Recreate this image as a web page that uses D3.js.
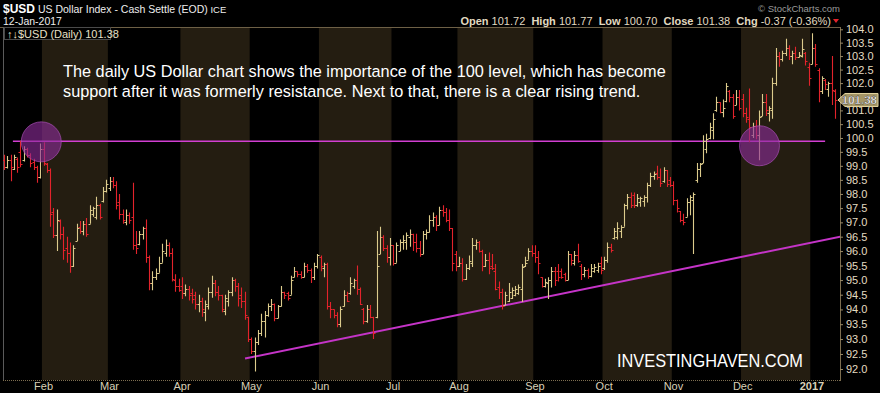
<!DOCTYPE html>
<html><head><meta charset="utf-8">
<script src="https://cdn.jsdelivr.net/npm/d3@7"></script>
<style>html,body{margin:0;padding:0;background:#000;}svg{display:block;}</style>
</head><body>
<svg id="c" width="880" height="393"></svg>
<script>
// ---------- DATA ----------
const firstDay = "2016-01-13", lastDay = "2017-01-12";
const holidays = ["2016-01-18","2016-02-15","2016-03-25","2016-05-30","2016-07-04","2016-09-05","2016-11-24","2016-12-26","2017-01-02"];
const monthLabels = ["Feb","Mar","Apr","May","Jun","Jul","Aug","Sep","Oct","Nov","Dec","2017"];
const yTicks = [92.0,92.5,93.0,93.5,94.0,94.5,95.0,95.5,96.0,96.5,97.0,97.5,98.0,98.5,99.0,99.5,100.0,100.5,101.0,101.5,102.0,102.5,103.0,103.5,104.0];

const opens = [
99.2,98.95,99.2,98.9,99.25,99.5,99.2,99.6,99.4,99.15,98.95,98.6,
99.6,99.05,98.85,97.35,96.55,97.05,96.6,96.1,95.95,95.5,96.35,96.85,96.7,96.95,96.95,97.3,97.2,97.6,97.75,98.1,
98.2,98.45,98.3,97.7,97.3,97.0,97.25,97.2,96.2,96.25,96.6,96.8,95.8,94.9,95.1,95.25,95.6,95.95,96.2,95.95,95.0,94.8,
94.8,94.55,94.7,94.55,94.5,94.2,94.3,93.9,94.1,94.6,94.9,94.6,94.5,93.95,94.3,94.6,95.0,94.8,94.5,94.3,93.75,
93.0,92.6,92.9,93.2,93.6,93.8,94.1,94.2,93.7,94.1,94.6,94.55,94.5,95.1,95.3,95.2,95.1,95.5,95.35,95.1,95.5,
95.8,95.4,95.55,94.1,94.0,93.8,93.5,94.1,94.5,94.55,94.8,95.0,94.7,94.0,93.6,94.0,93.75,93.75,95.9,96.5,96.1,95.8,
96.2,95.6,96.0,96.3,96.3,96.5,96.6,96.3,96.1,95.9,96.6,96.65,97.1,97.2,96.9,97.45,97.35,97.1,96.8,95.9,
95.5,95.6,95.05,95.4,95.6,96.2,96.3,96.0,95.5,95.7,95.5,95.3,94.75,94.6,94.15,94.3,94.4,94.5,94.55,94.7,95.5,95.7,96.0,
95.95,95.8,95.1,94.8,94.9,95.0,95.3,95.3,95.3,95.2,95.0,95.9,95.6,95.85,95.5,95.2,95.35,95.15,95.3,95.35,95.6,
95.4,95.7,96.15,96.45,96.5,96.7,96.85,97.6,97.9,97.95,97.6,97.7,97.75,97.9,98.3,98.65,98.75,98.6,98.45,98.85,98.5,
98.3,97.8,97.4,97.1,97.2,97.7,97.8,98.5,98.9,99.1,99.6,100.0,100.3,101.0,101.3,100.95,101.35,101.7,101.5,101.2,101.5,
101.4,100.9,100.7,100.1,100.45,100.1,100.8,101.3,100.9,101.0,102.0,103.0,102.9,103.1,103.3,103.0,103.1,102.95,103.0,103.1,102.6,
102.7,103.3,102.5,101.7,102.1,101.8,102.0,101.72];
const highs = [
99.4,99.35,99.4,99.4,99.3,99.9,99.7,99.65,99.45,99.25,99.0,99.8,
99.85,99.1,98.9,97.5,97.45,97.1,96.85,96.5,96.3,96.2,96.95,97.05,97.05,97.15,97.6,97.55,97.9,97.65,98.25,98.5,
98.6,98.6,98.45,98.0,97.45,97.45,97.35,98.4,96.7,96.7,96.85,97.1,95.85,95.3,95.4,95.8,96.25,96.4,96.3,96.1,95.2,95.05,
95.1,94.85,94.8,94.7,94.6,94.5,94.4,94.3,94.75,95.15,95.0,94.8,94.5,94.5,94.65,95.1,95.05,94.9,94.75,94.6,93.75,
93.05,93.05,93.3,93.85,93.95,94.2,94.35,94.2,94.15,94.8,94.6,94.6,95.15,95.45,95.3,95.3,95.6,95.55,95.4,95.6,95.9,
95.85,95.6,95.6,94.25,94.0,93.9,94.1,94.65,94.6,95.1,95.05,95.5,94.75,94.05,94.15,94.15,93.75,96.7,96.85,96.55,96.2,96.45,
96.2,96.3,96.4,96.55,96.65,96.75,96.6,96.6,96.35,96.7,96.75,97.25,97.35,97.25,97.55,97.6,97.5,97.45,96.8,96.0,
95.8,95.75,95.55,95.85,96.45,96.4,96.35,96.05,95.9,95.95,95.9,95.55,94.95,94.7,94.6,94.9,94.75,94.8,94.85,95.55,95.8,96.1,96.2,
96.2,96.0,95.1,95.05,95.1,95.45,95.45,95.55,95.4,95.25,96.0,95.9,96.0,96.25,95.55,95.45,95.4,95.55,95.55,95.6,95.8,
95.8,96.3,96.25,96.8,97.0,96.9,97.65,98.0,98.05,98.05,98.0,97.9,97.95,98.4,98.75,98.8,99.0,98.9,98.95,98.85,98.6,
98.45,97.8,97.4,97.3,97.85,97.95,98.05,99.1,99.1,100.1,100.15,100.55,100.9,101.5,101.3,101.4,102.0,101.75,101.6,101.75,101.75,
101.6,101.1,101.8,100.55,100.65,101.0,101.6,101.6,101.15,102.2,103.3,103.15,103.2,103.65,103.4,103.2,103.35,103.15,103.65,103.15,102.75,
103.85,103.45,102.55,102.25,102.15,102.05,103.0,101.77];
const lows = [
98.85,98.9,98.45,98.85,98.75,98.95,99.15,99.3,98.95,98.85,98.4,98.55,
99.0,98.75,96.85,96.45,96.0,96.4,95.7,95.6,95.25,95.45,96.35,96.6,96.55,96.5,96.95,97.2,97.1,97.1,97.7,98.05,
98.1,98.2,97.45,97.1,96.95,96.9,96.95,96.05,95.9,96.2,96.4,95.6,94.65,94.65,95.0,95.25,95.6,95.8,95.8,94.95,94.6,94.6,
94.35,94.45,94.3,94.2,94.0,93.9,93.75,93.6,94.0,94.4,94.45,94.3,93.9,93.8,94.1,94.45,94.6,94.1,94.05,93.65,92.9,
92.5,91.92,92.8,93.1,93.05,93.75,93.95,93.6,93.7,94.1,94.35,94.3,94.5,95.1,95.1,95.05,95.1,95.25,94.9,95.0,95.4,
95.3,95.1,94.0,93.7,93.7,93.4,93.4,94.1,94.25,94.5,94.7,94.5,94.15,93.5,93.55,93.7,93.0,93.7,95.9,96.0,95.6,95.5,
95.5,95.6,96.0,96.05,96.05,96.15,96.0,95.95,95.8,95.9,96.4,96.65,96.85,96.7,96.9,97.2,97.0,96.7,95.3,95.3,
95.45,94.95,95.0,95.35,95.45,96.05,95.95,95.3,95.45,95.2,95.35,94.65,94.35,94.0,94.15,94.25,94.35,94.45,94.5,94.25,95.45,95.7,95.8,
95.6,95.2,94.75,94.75,94.35,94.75,94.8,94.95,95.05,94.95,95.0,95.5,95.5,95.6,95.0,95.1,95.05,95.1,95.25,95.25,95.2,
95.35,95.6,95.95,96.4,96.4,96.45,96.85,97.45,97.5,97.5,97.55,97.55,97.55,97.7,98.25,98.5,98.5,98.25,98.4,98.25,98.25,
97.6,97.35,97.0,96.9,97.2,97.25,95.9,98.4,98.6,99.1,99.45,99.95,99.95,100.95,100.9,100.75,101.3,101.3,100.7,101.2,101.0,
100.75,100.55,99.85,100.0,99.95,99.2,100.8,100.8,100.6,100.7,101.9,102.6,102.8,103.0,102.85,102.7,102.85,102.95,102.95,102.65,101.9,
102.7,102.6,101.3,101.6,101.75,101.5,101.2,100.70];
const closes = [
98.95,99.2,98.95,99.3,98.95,99.05,99.6,99.4,99.1,98.95,98.6,99.6,
99.1,98.85,97.3,96.55,97.1,96.6,96.05,95.95,95.5,96.1,96.8,96.7,96.95,96.6,97.45,97.5,97.6,97.2,98.1,98.35,
98.45,98.3,97.6,97.3,97.1,97.25,97.1,96.2,96.1,96.6,96.8,95.8,94.9,95.1,95.25,95.6,96.0,96.2,95.95,95.05,94.8,94.65,
94.55,94.7,94.5,94.35,94.2,94.3,94.0,94.2,94.6,94.9,94.6,94.5,94.0,94.4,94.6,95.0,94.8,94.4,94.3,93.8,93.0,
92.6,92.9,93.2,93.6,93.8,94.1,94.2,93.7,94.1,94.6,94.5,94.4,95.0,95.3,95.2,95.1,95.5,95.35,95.1,95.5,95.85,
95.5,95.55,94.1,94.0,93.8,93.5,94.0,94.5,94.3,94.9,95.0,94.7,94.2,93.6,94.0,93.75,93.2,95.5,96.5,96.1,95.8,96.2,
95.6,96.2,96.3,96.4,96.55,96.6,96.3,96.1,95.9,96.6,96.65,97.1,97.2,96.9,97.45,97.35,97.1,96.8,95.6,95.5,
95.6,95.05,95.4,95.65,96.2,96.3,96.0,95.5,95.7,95.4,95.4,94.7,94.6,94.1,94.5,94.6,94.65,94.7,94.75,95.45,95.6,96.0,95.95,
95.8,95.6,94.8,94.95,95.0,95.3,95.0,95.1,95.1,95.0,95.9,95.7,95.85,95.65,95.2,95.35,95.15,95.4,95.45,95.5,95.35,
95.7,96.15,96.05,96.7,96.8,96.85,97.6,97.9,97.6,97.6,97.85,97.85,97.9,98.3,98.65,98.7,98.6,98.4,98.85,98.35,98.3,
97.8,97.5,97.1,97.0,97.7,97.9,98.0,98.9,99.05,99.9,99.95,100.4,100.7,101.3,100.95,101.1,101.9,101.5,100.8,101.5,101.1,
100.9,100.75,100.4,100.45,100.1,100.75,101.3,101.0,101.1,102.0,103.0,102.9,103.1,103.3,103.0,103.1,102.95,103.05,103.25,102.8,102.2,
103.3,102.7,101.7,102.2,101.95,102.0,101.75,101.38];

// annotations (day index, price)
const levelPrice = 99.88, levelSpan = [2.7, 249];
const trendStart = [73.1, 92.35], trendEnd = [253.6, 96.5];
const highlightCircles = [[11.3, 99.86], [229.1, 99.72]];
const lastClose = 101.38;
const noteLines = ["The daily US Dollar chart shows the importance of the 100 level, which has become",
                   "support after it was formerly resistance. Next to that, there is a clear rising trend."];
const headerStats = [["Open", "101.72"], ["High", "101.77"], ["Low", "100.70"], ["Close", "101.38"], ["Chg", "-0.37 (-0.36%)"]];

// ---------- BUILD ----------
const parse = d3.utcParse("%Y-%m-%d"), fmt = d3.utcFormat("%Y-%m-%d");
const hol = new Set(holidays);
const dates = d3.utcDay.range(parse(firstDay), d3.utcDay.offset(parse(lastDay), 1))
  .filter(d => d.getUTCDay() !== 0 && d.getUTCDay() !== 6 && !hol.has(fmt(d)));

const L = 3, R = 840, T = 27, B = 380;
const FONT = "'Liberation Sans', Arial, sans-serif";
const x = d3.scaleLinear().domain([0, dates.length - 1]).range([4, 835]);
const y = d3.scaleLog().domain([92, 104]).range([369, 29.3]);
const step = x(1) - x(0);

const svg = d3.select("#c");
svg.append("rect").attr("width", 880).attr("height", 393).attr("fill", "#000");
svg.append("clipPath").attr("id", "pc").append("rect").attr("x", L).attr("y", T).attr("width", R - L).attr("height", B - T);

// month starts
const mStarts = [];
dates.forEach((d, i) => { if (i > 0 && d.getUTCMonth() !== dates[i - 1].getUTCMonth()) mStarts.push(i); });
const bandG = svg.append("g").attr("clip-path", "url(#pc)");
mStarts.forEach((s, k) => {
  const m = dates[s].getUTCMonth();
  if (m % 2 === 1) {
    const x0 = x(s) - step / 2, x1 = k + 1 < mStarts.length ? x(mStarts[k + 1]) - step / 2 : R;
    bandG.append("rect").attr("x", x0).attr("y", T).attr("width", x1 - x0).attr("height", B - T).attr("fill", "#241d11");
  }
});

// frame
svg.append("line").attr("x1", 0).attr("x2", R).attr("y1", T + 0.5).attr("y2", T + 0.5).attr("stroke", "#6e6046");
svg.append("line").attr("x1", L + 0.5).attr("x2", L + 0.5).attr("y1", T).attr("y2", B).attr("stroke", "#5a5a5a");
svg.append("line").attr("x1", L).attr("x2", R).attr("y1", B + 0.5).attr("y2", B + 0.5).attr("stroke", "#7d6e50").attr("stroke-dasharray", "1,1");
svg.append("line").attr("x1", R + 0.5).attr("x2", R + 0.5).attr("y1", T).attr("y2", B + 1).attr("stroke", "#7d6e50");

const plotG = svg.append("g").attr("clip-path", "url(#pc)");
plotG.append("line").attr("x1", x(levelSpan[0])).attr("x2", x(levelSpan[1]))
  .attr("y1", y(levelPrice)).attr("y2", y(levelPrice)).attr("stroke", "#d23fd2").attr("stroke-width", 1.6);
plotG.append("line").attr("x1", x(trendStart[0])).attr("y1", y(trendStart[1]))
  .attr("x2", x(trendEnd[0])).attr("y2", y(trendEnd[1])).attr("stroke", "#c534c8").attr("stroke-width", 2);

// OHLC bars
const GOLD = "#dccb8c", RED = "#e3232b";
plotG.append("g").selectAll("path").data(dates).join("path")
  .attr("d", (d, i) => {
    const cx = Math.round(x(i)) + 0.5;
    const yo = Math.round(y(opens[i])) + 0.5, yc = Math.round(y(closes[i])) + 0.5;
    return `M${cx},${y(highs[i])}V${y(lows[i])}M${cx - 2},${yo}H${cx}M${cx},${yc}H${cx + 2}`;
  })
  .attr("stroke", (d, i) => closes[i] >= opens[i] ? GOLD : RED)
  .attr("stroke-width", 1.1).attr("fill", "none");

// highlight circles
plotG.append("g").selectAll("circle").data(highlightCircles).join("circle")
  .attr("cx", d => x(d[0])).attr("cy", d => y(d[1])).attr("r", 20)
  .attr("fill", "#8d2c99").attr("fill-opacity", 0.62)
  .attr("stroke", "#b355c0").attr("stroke-opacity", 0.6);

// note text
svg.append("g").selectAll("text").data(noteLines).join("text")
  .attr("x", 63).attr("y", (d, i) => 77 + i * 20).text(d => d)
  .attr("fill", "#ffffff").attr("font-family", FONT).attr("font-size", 16.3);

// watermark
svg.append("text").attr("x", 617).attr("y", 367).text("INVESTINGHAVEN.COM")
  .attr("fill", "#ffffff").attr("font-family", FONT).attr("font-size", 18.6)
  .attr("textLength", 186).attr("lengthAdjust", "spacingAndGlyphs");

// right axis
const ax = svg.append("g").attr("transform", `translate(${R},0)`)
  .call(d3.axisRight(y).tickValues(yTicks).tickFormat(d3.format(".1f")).tickSize(3).tickPadding(3));
ax.select(".domain").remove();
ax.selectAll("line").attr("stroke", "#9a8a66");
ax.selectAll("text").attr("fill", "#e4dcc2").attr("font-family", FONT).attr("font-size", 11);

// last price tag
const ty = y(lastClose);
svg.append("path").attr("d", `M${R - 2},${ty} L${R + 5},${ty - 6.5} H878 V${ty + 6.5} H${R + 5} Z`)
  .attr("fill", "#a49566").attr("stroke", "#e2d39e").attr("stroke-width", 1);
svg.append("text").attr("x", 877).attr("y", ty + 4.2).attr("text-anchor", "end").text(d3.format(".2f")(lastClose))
  .attr("fill", "#ffffff").attr("font-family", FONT).attr("font-size", 11.5).attr("font-weight", "bold")
  .attr("stroke", "#000").attr("stroke-width", 0.3);

// bottom axis month labels
svg.append("g").selectAll("text").data(mStarts).join("text")
  .attr("x", s => x(s)).attr("y", 390).attr("text-anchor", "middle")
  .text((s, k) => monthLabels[k])
  .attr("font-weight", (s, k) => monthLabels[k] === "2017" ? "bold" : "normal")
  .attr("fill", "#d9d1b8").attr("font-family", FONT).attr("font-size", 11);

// header
const h1 = svg.append("text").attr("x", 3).attr("y", 13).attr("font-family", FONT).attr("fill", "#eeeeee");
h1.append("tspan").text("$USD").attr("font-weight", "bold").attr("font-size", 12).attr("fill", "#fff");
h1.append("tspan").text(" US Dollar Index - Cash Settle (EOD)").attr("font-size", 10.5);
h1.append("tspan").text(" ICE").attr("font-size", 9.5);
svg.append("text").attr("x", 3).attr("y", 25).text("12-Jan-2017").attr("font-family", FONT).attr("font-size", 10.5).attr("fill", "#eeeeee");

svg.append("rect").attr("x", 4.5).attr("y", 27.5).attr("width", 106).attr("height", 12).attr("fill", "#000").attr("stroke", "#4a4a4a");
svg.append("text").attr("x", 7).attr("y", 37.5).text("\u2191\u2193$USD (Daily) 101.38")
  .attr("font-family", FONT).attr("font-size", 11).attr("fill", "#e8e0c8");

svg.append("text").attr("x", 840).attr("y", 12).attr("text-anchor", "end").text("\u00a9 StockCharts.com")
  .attr("font-family", FONT).attr("font-size", 9.5).attr("fill", "#9a9a9a");

const h2 = svg.append("text").attr("x", 831).attr("y", 24.5).attr("text-anchor", "end")
  .attr("xml:space", "preserve").style("white-space", "pre")
  .attr("font-family", FONT).attr("font-size", 11).attr("fill", "#e2dac0");
headerStats.forEach((p, k) => {
  h2.append("tspan").text((k ? "  " : "") + p[0]).attr("font-weight", "bold");
  h2.append("tspan").text(" " + p[1]);
});
svg.append("path").attr("d", "M833,19 H839 L836,23 Z").attr("fill", "#e3232b");
</script>
</body></html>
